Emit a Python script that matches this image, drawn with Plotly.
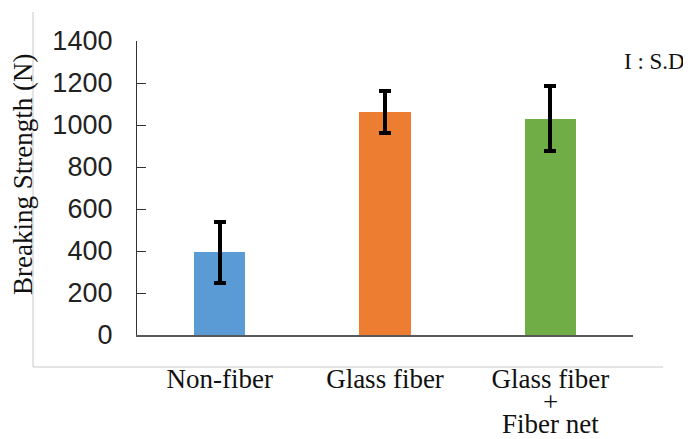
import plotly.graph_objects as go

categories = ["Non-fiber", "Glass fiber", "Glass fiber + Fiber net"]
tick_first_lines = ["Non-fiber", "Glass fiber", "Glass fiber"]
extra_lines = {"Glass fiber + Fiber net": ["+", "Fiber net"]}
values = [393, 1060, 1030]
sd = [143, 100, 155]
colors = ["#5B9BD5", "#ED7D31", "#70AD47"]
y_ticks = [0, 200, 400, 600, 800, 1000, 1200, 1400]

# page body has an 8px margin, so the figure is drawn 8px in from the corner
OFF = 8
W, H = 691 - OFF, 439 - OFF
L, R, T, B = 137 - OFF, 58, 41 - OFF, 104
PW, PH = W - L - R, H - T - B


def px(x):
    return (x - OFF - L) / PW


def py(y):
    return (H - B - (y - OFF)) / PH


fig = go.Figure()
fig.add_trace(go.Bar(
    x=categories, y=values, width=0.31,
    marker=dict(color=colors, line=dict(width=0)),
    error_y=dict(type="data", array=sd, visible=True, color="black",
                 thickness=4, width=6),
    showlegend=False,
))

fig.update_layout(
    width=W, height=H,
    margin=dict(l=L, r=R, t=T, b=B),
    paper_bgcolor="white", plot_bgcolor="white",
    bargap=0,
)
fig.update_xaxes(
    range=[-0.5, 2.5], tickmode="array", tickvals=categories, ticktext=tick_first_lines,
    showline=True, linecolor="#595959", linewidth=2, ticks="",
    showgrid=False, zeroline=False, automargin=False,
    tickfont=dict(family="Liberation Serif", size=27, color="#111"),
    ticklabelstandoff=19,
)
fig.update_yaxes(
    range=[0, 1400], tickvals=y_ticks, ticks="inside", ticklen=9, tickwidth=1.3,
    tickcolor="#333", showline=True, linecolor="#333", linewidth=1.3,
    showgrid=False, zeroline=False, automargin=False,
    tickfont=dict(family="Liberation Sans", size=27, color="#222"),
    ticklabelstandoff=18,
)

# y-axis title
fig.add_annotation(x=px(23), y=py(175), xref="paper", yref="paper",
                   xanchor="center", yanchor="middle", textangle=-90,
                   text="Breaking Strength (N)", showarrow=False,
                   font=dict(family="Liberation Serif", size=27, color="#111"))

for cat, lines in extra_lines.items():
    for i, line in enumerate(lines):
        fig.add_annotation(x=cat, xref="x", y=0, yref="paper", yanchor="top",
                           yshift=-(51 + 22 * i), text=line, showarrow=False,
                           borderpad=0,
                           font=dict(family="Liberation Serif", size=27, color="#111"))

fig.add_annotation(x=px(654), y=py(62), xref="paper", yref="paper",
                   xanchor="center", yanchor="middle", text="I : S.D",
                   showarrow=False,
                   font=dict(family="Liberation Serif", size=23, color="#111"))

# outer frame lines (left and bottom)
fig.add_shape(type="line", xref="paper", yref="paper",
              x0=px(33), x1=px(33), y0=py(367), y1=py(12),
              line=dict(color="#c8c8c8", width=1))
fig.add_shape(type="line", xref="paper", yref="paper",
              x0=px(33), x1=px(663), y0=py(367), y1=py(367),
              line=dict(color="#c8c8c8", width=1))

fig.write_html("out.html")
